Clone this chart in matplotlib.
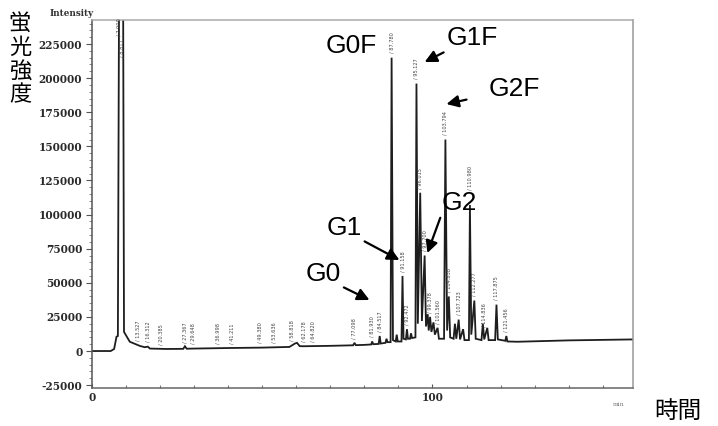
import numpy as np
import matplotlib
matplotlib.use("Agg")
import matplotlib.pyplot as plt
from matplotlib.ticker import MultipleLocator

# ---------------- data ----------------
trace_time = [
    0.0, 5.5, 6.5, 7.2, 7.6, 8.0, 9.1, 9.4, 11.1, 14.1, 15.5, 16.4, 17.0, 22.0,
    26.8, 27.3, 27.8, 30.0, 40.0, 50.0, 58.0, 59.6, 60.2, 61.0, 62.0, 70.0, 76.7, 77.1, 77.5,
    80.0, 82.0, 82.3, 82.6, 84.2, 84.5, 84.8, 86.2, 86.5, 86.8, 87.7, 88.0, 88.4,
    89.2, 89.5, 89.8, 90.9, 91.2, 91.5, 92.2, 92.5, 92.8, 93.4, 93.7, 94.0,
    95.0, 95.3, 95.7, 96.4, 96.9, 97.7, 98.1, 98.6, 98.9, 99.3, 99.7, 100.3,
    100.7, 101.5, 101.9, 103.4, 103.8, 104.3, 104.8, 105.2, 106.2, 106.6, 107.0,
    107.7, 108.1, 109.0, 109.4, 110.7, 111.0, 111.4, 112.3, 112.7, 114.4, 114.8,
    115.2, 116.1, 116.5, 118.4, 118.8, 119.2, 121.4, 121.7, 122.0, 125.0, 140.0,
    158.9,
]
trace_intensity = [
    0, 0, 1500, 10500, 11000, 300000, 300000, 14000, 6800, 3700, 2800, 3200, 1800, 1500,
    1600, 3500, 1700, 1800, 2200, 2500, 3000, 5500, 6000, 3600, 3500, 3800, 4200, 6000, 4300,
    4500, 4800, 7000, 5000, 5200, 11000, 5500, 6000, 9000, 6500, 6500, 215000, 8000,
    7000, 12000, 7000, 7000, 55000, 9000, 8500, 16000, 9000, 9000, 13000, 9500,
    10000, 196000, 20000, 116000, 22000, 70000, 18000, 27000, 15000, 25000, 14000, 21000,
    12000, 17000, 9000, 9000, 155000, 15000, 40000, 10000, 9000, 20000, 9000,
    23000, 8500, 16000, 8000, 8000, 107000, 12000, 37000, 9000, 8000, 20000,
    8500, 17000, 8000, 8000, 34000, 8500, 7500, 11000, 7000, 6800, 7800,
    8500,
]

# retention-time labels printed above peaks
rt_label_times = [7.9, 8.8, 13.6, 16.4, 20.4, 27.4, 29.6, 37.0, 41.2, 49.4, 53.6,
                  58.8, 62.2, 64.8, 77.1, 82.3, 84.5, 88.0, 91.2, 92.5, 95.3, 96.4,
                  97.7, 99.3, 101.5, 103.8, 104.8, 107.7, 111.0, 112.3, 115.0,
                  118.8, 121.7]
rt_label_texts = ["7.900", "8.817", "13.527", "16.312", "20.385", "27.367", "29.648",
                  "36.998", "41.211", "49.380", "53.636", "58.818", "62.178", "64.820",
                  "77.098", "81.930", "84.517", "87.780", "91.158", "92.472", "95.127",
                  "96.015", "97.700", "99.378", "101.560", "103.794", "104.838",
                  "107.723", "110.980", "112.277", "114.836", "117.875", "121.456"]

yticks = [-25000, 0, 25000, 50000, 75000, 100000, 125000, 150000, 175000, 200000, 225000]
xticks = [0, 100]

# ---------------- figure ----------------
W, H = 718, 426
fig = plt.figure(figsize=(W / 100, H / 100), dpi=100)
ax = fig.add_axes([92 / W, 1 - 388 / H, (633 - 92) / W, (388 - 20) / H])

ax.plot(trace_time, trace_intensity, color="#1e1e1e", lw=1.3, solid_joinstyle="miter")

ax.set_xlim(0, 158.9)
ax.set_ylim(-27100, 242600)

tick_font = dict(family="DejaVu Serif", weight="bold", size=7.6)
ax.set_yticks(yticks)
ax.set_yticklabels([str(v) for v in yticks], fontdict=tick_font, color="#2a2a2a")
ax.yaxis.set_minor_locator(MultipleLocator(5000))
ax.set_xticks(xticks)
ax.set_xticklabels([str(v) for v in xticks], fontdict=tick_font, color="#2a2a2a")
ax.xaxis.set_minor_locator(MultipleLocator(10))
ax.tick_params(axis="y", which="major", direction="out", length=4, width=0.8,
               color="#555", pad=3)
ax.tick_params(axis="y", which="minor", direction="out", length=2, width=0.6, color="#777")
ax.tick_params(axis="x", which="major", direction="in", length=3, width=0.8,
               color="#555", pad=3)
ax.tick_params(axis="x", which="minor", direction="in", length=2, width=0.8, color="#777")

for side, col in [("left", "#555"), ("bottom", "#666"), ("top", "#aaa"), ("right", "#999")]:
    ax.spines[side].set_color(col)
    ax.spines[side].set_linewidth(1.1)

# retention-time labels
ylo, yhi = ax.get_ylim()
for t, s in zip(rt_label_times, rt_label_texts):
    y = float(np.interp(t, trace_time, trace_intensity))
    if y > yhi:
        y = yhi - 30000
    off = 3
    if 110 < t < 111.5:  # keep clear of the "G2" caption
        off = 11
    ax.annotate("/ " + s, xy=(t, y), xytext=(0, off), textcoords="offset points",
                rotation=90, ha="center", va="bottom", fontsize=3.6,
                family="DejaVu Sans", color="#444", clip_on=False)

# glycan annotations (text & arrows)
ann_font = dict(family="Liberation Sans", size=19, color="black")
arrow = dict(arrowstyle="-|>", color="black", lw=1.6, mutation_scale=18, shrinkB=0)
ax.text(83.6, 223600, "G0F", ha="right", va="center", **ann_font)
ax.annotate("G1F", xy=(97.7, 211800), xytext=(104.1, 229400), ha="left", va="center",
            arrowprops=dict(arrow, shrinkA=0), **ann_font)
ax.annotate("G2F", xy=(104.1, 181000), xytext=(116.4, 192000), ha="left", va="center",
            arrowprops=dict(arrow, shrinkA=14), **ann_font)
ax.annotate("G2", xy=(98.5, 71800), xytext=(102.6, 108500), ha="left", va="center",
            arrowprops=dict(arrow, shrinkA=0, relpos=(0.0, 0.0)), **ann_font)
ax.annotate("G1", xy=(90.3, 66700), xytext=(68.9, 90200), ha="left", va="center",
            arrowprops=dict(arrow, shrinkA=0, relpos=(1.0, 0.0)), **ann_font)
ax.annotate("G0", xy=(81.5, 37400), xytext=(62.8, 56400), ha="left", va="center",
            arrowprops=dict(arrow, shrinkA=0, relpos=(1.0, 0.0)), **ann_font)

# axis captions
fig.text(50 / W, 1 - 13 / H, "Intensity", family="DejaVu Serif", weight="bold",
         size=6.3, color="#333", ha="left", va="center")
fig.text(619 / W, 1 - 404 / H, "min", family="DejaVu Serif", size=4.5,
         color="#777", ha="center", va="center")
cjk = ["Noto Sans CJK JP", "DejaVu Sans"]
fig.text(20 / W, 1 - 59 / H, "蛍\n光\n強\n度", family=cjk, size=16, color="black",
         ha="center", va="center", linespacing=1.05)
fig.text(678 / W, 1 - 411 / H, "時間", family=cjk, size=17, color="black",
         ha="center", va="center")

fig.savefig("out.png", dpi=100, facecolor="white")
